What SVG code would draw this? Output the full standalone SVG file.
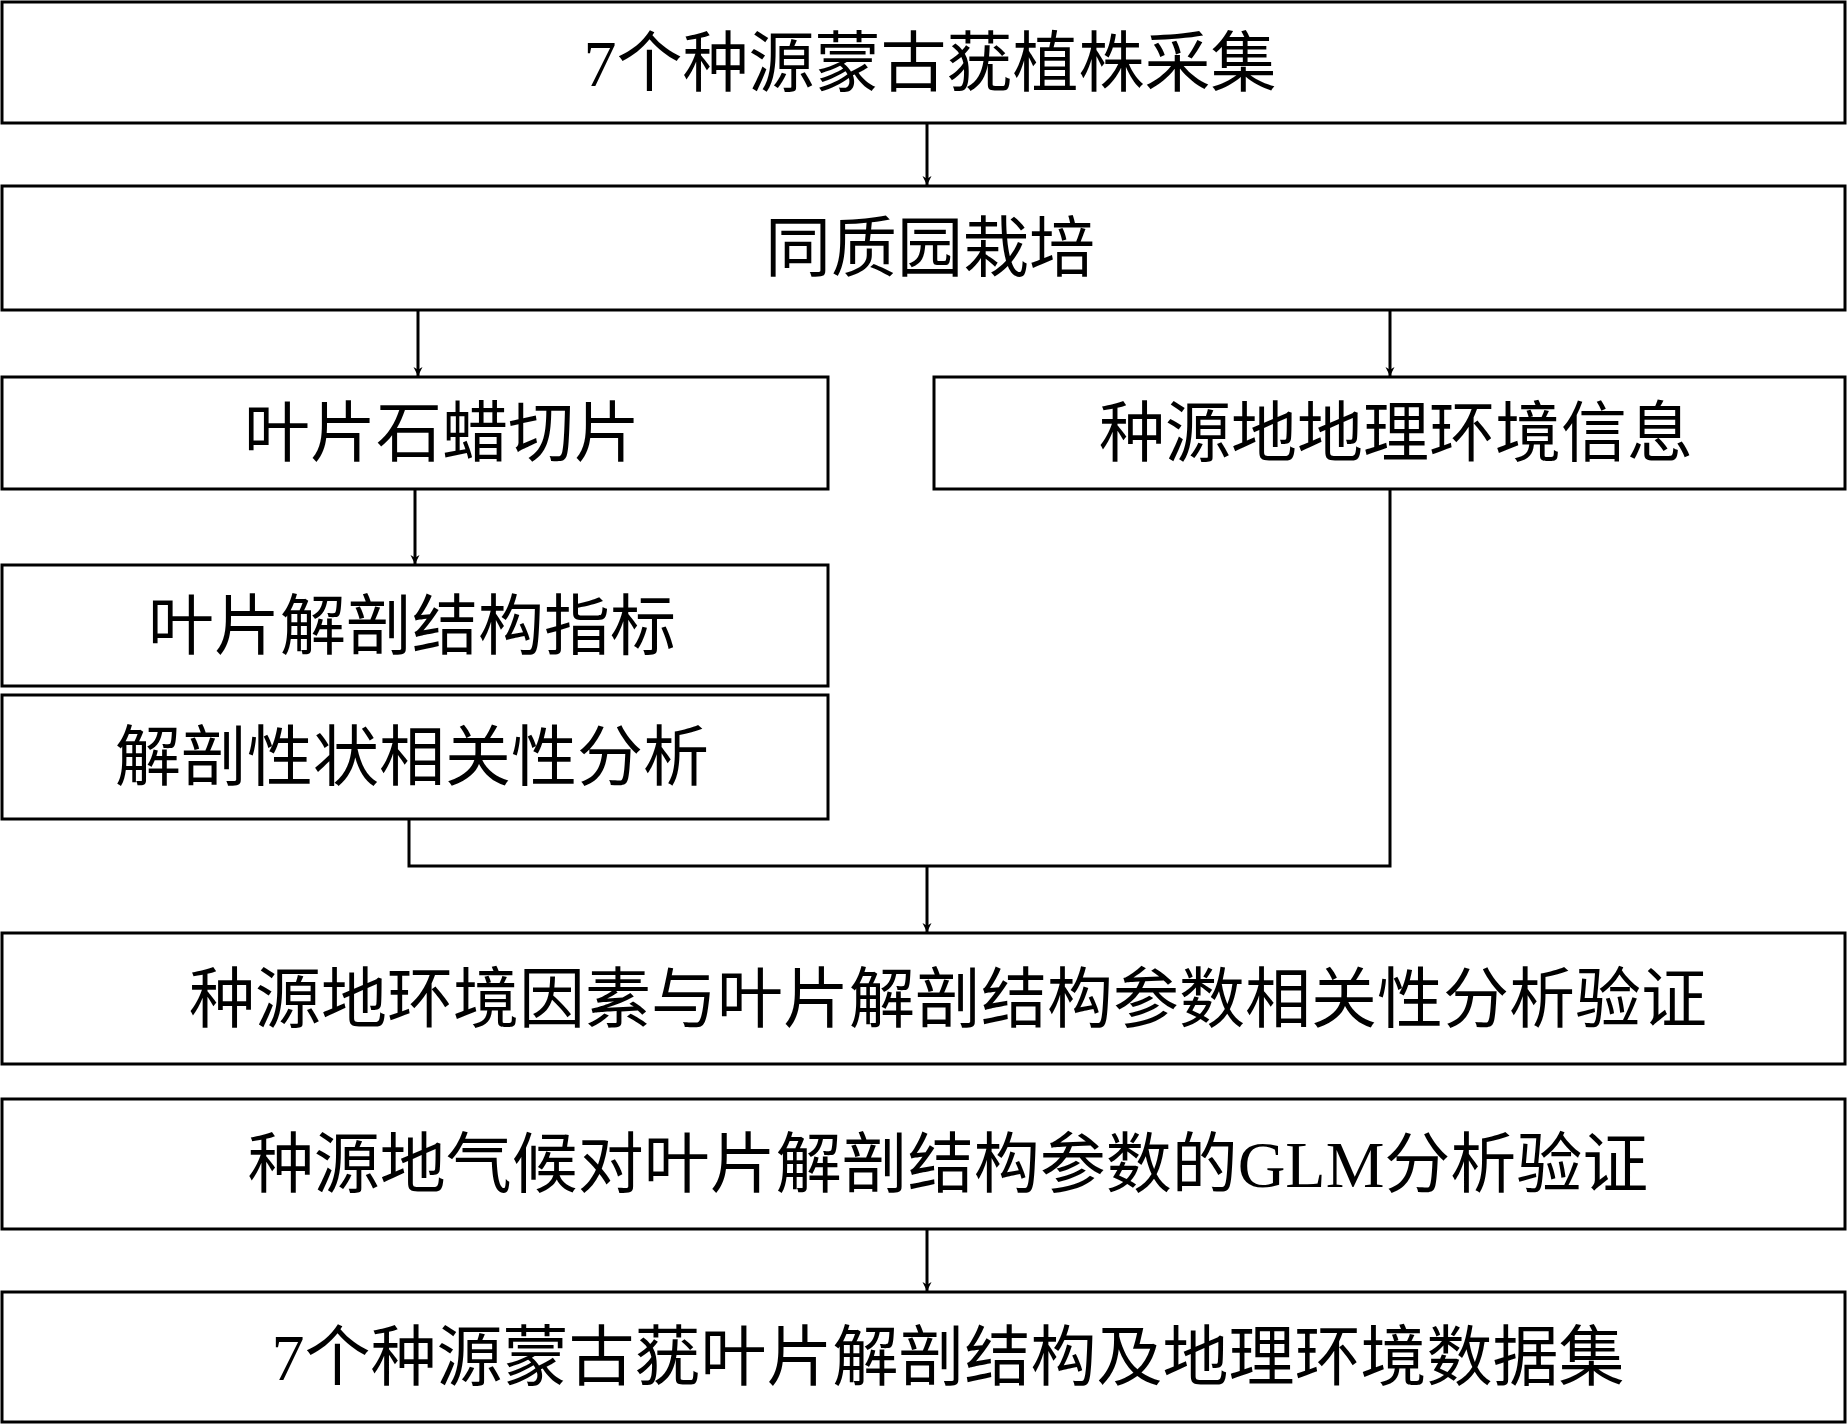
<svg xmlns="http://www.w3.org/2000/svg" width="1847" height="1425" viewBox="0 0 1847 1425">
<style>
rect{fill:#fff;stroke:#000;stroke-width:3}
text{font-family:"Liberation Serif","Noto Sans CJK SC",serif;font-size:66px;text-anchor:middle;dominant-baseline:central;fill:#000}
.c line,.c polyline{stroke:#000;stroke-width:3;fill:none}
</style>
<defs><marker id="a" viewBox="0 0 10 10" refX="10" refY="5" markerWidth="9" markerHeight="11" markerUnits="userSpaceOnUse" orient="auto"><path d="M0,0L10,5L0,10L3,5Z" fill="#000"/></marker></defs>
<rect width="1847" height="1425" style="stroke:none"/>
<g id="n1"><rect x="2" y="2" width="1843" height="121"/><text x="930" y="63">7个种源蒙古莸植株采集</text></g>
<g id="n2"><rect x="2" y="186" width="1843" height="124"/><text x="930" y="248">同质园栽培</text></g>
<g id="n3"><rect x="2" y="377" width="826" height="112"/><text x="442" y="433">叶片石蜡切片</text></g>
<g id="n4"><rect x="934" y="377" width="911" height="112"/><text x="1396" y="433">种源地地理环境信息</text></g>
<g id="n5"><rect x="2" y="565" width="826" height="121"/><text x="412" y="626">叶片解剖结构指标</text></g>
<g id="n6"><rect x="2" y="695" width="826" height="124"/><text x="412" y="757">解剖性状相关性分析</text></g>
<g id="n7"><rect x="2" y="933" width="1843" height="131"/><text x="948" y="999">种源地环境因素与叶片解剖结构参数相关性分析验证</text></g>
<g id="n8"><rect x="2" y="1099" width="1843" height="130"/><text x="948" y="1164">种源地气候对叶片解剖结构参数的GLM分析验证</text></g>
<g id="n9"><rect x="2" y="1292" width="1843" height="130"/><text x="948" y="1357">7个种源蒙古莸叶片解剖结构及地理环境数据集</text></g>
<g class="c">
<line x1="927" y1="123" x2="927" y2="185" marker-end="url(#a)"/>
<line x1="418" y1="310" x2="418" y2="376" marker-end="url(#a)"/>
<line x1="1390" y1="310" x2="1390" y2="376" marker-end="url(#a)"/>
<line x1="415" y1="489" x2="415" y2="564" marker-end="url(#a)"/>
<polyline points="409,819 409,866 1390,866 1390,489"/>
<line x1="927" y1="866" x2="927" y2="932" marker-end="url(#a)"/>
<line x1="927" y1="1229" x2="927" y2="1291" marker-end="url(#a)"/>
</g>
</svg>
